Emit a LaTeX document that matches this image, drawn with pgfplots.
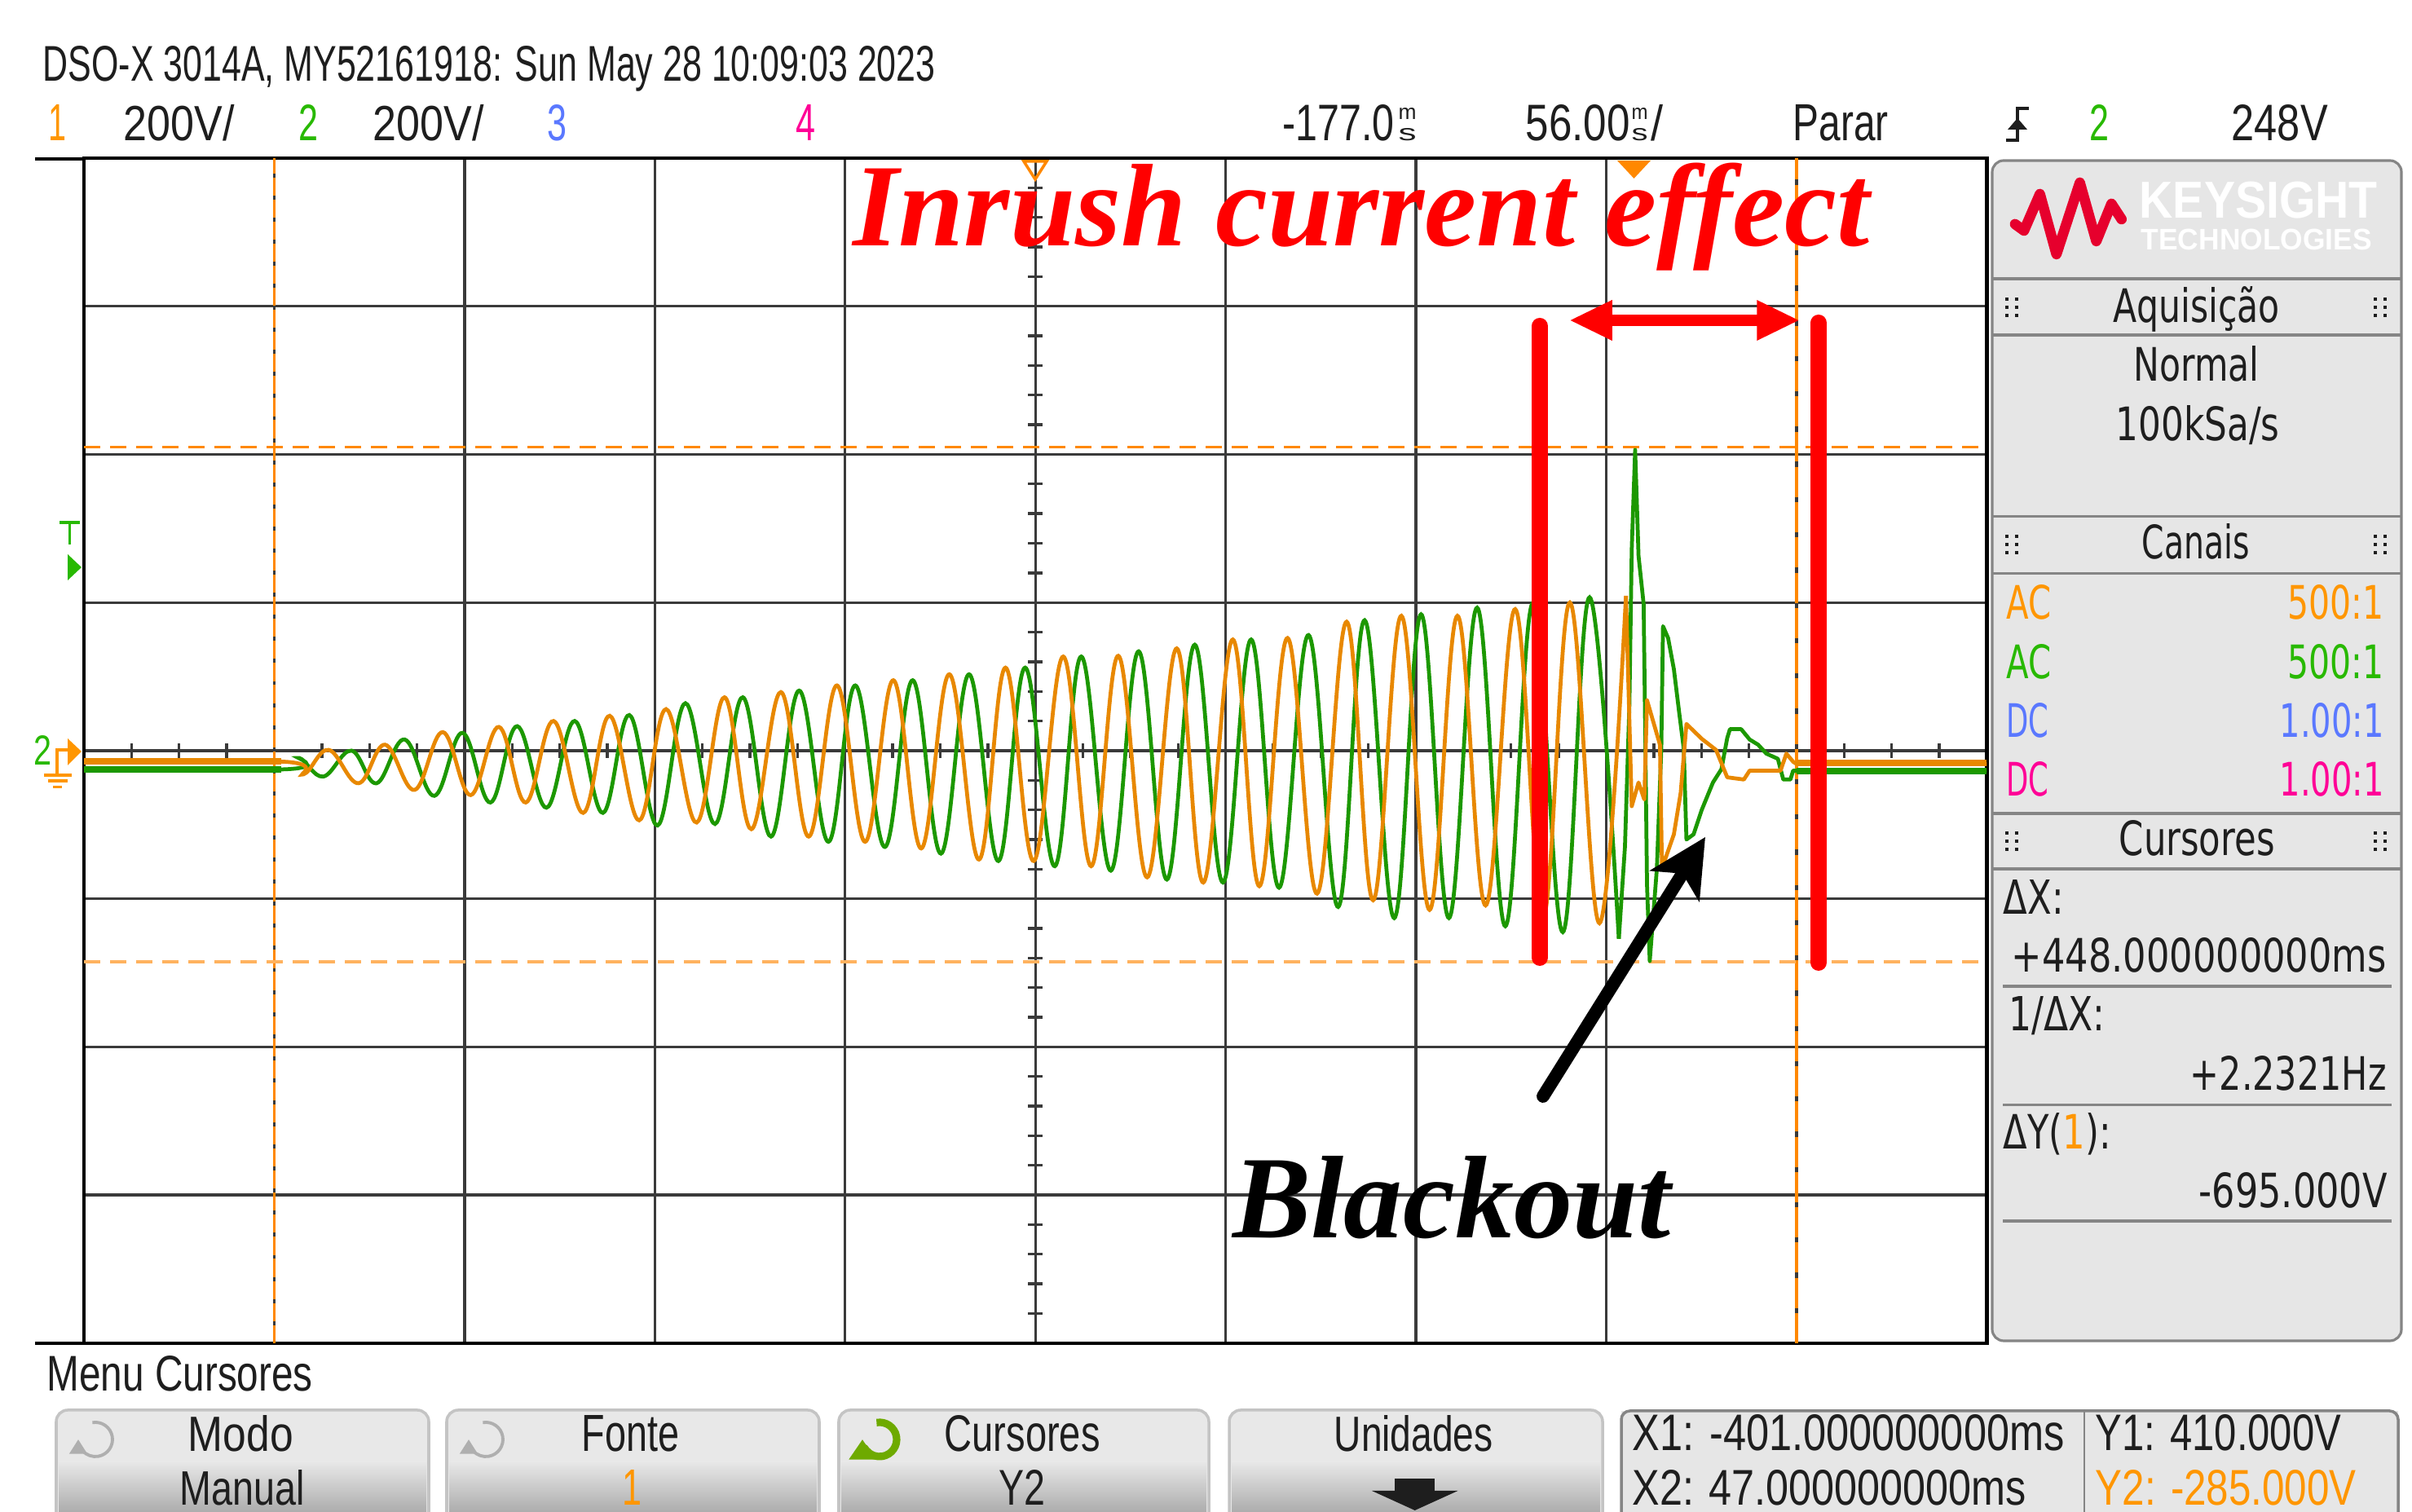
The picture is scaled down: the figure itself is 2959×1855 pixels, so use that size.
\documentclass[border=0pt]{standalone}
\usepackage{pgfplots}
\pgfplotsset{compat=1.18}
\usepackage{fontspec}
\usetikzlibrary{arrows.meta}
\setmainfont{Liberation Sans}
\newfontfamily\scopefont{Liberation Sans}
\newfontfamily\panelfont{DejaVu Sans}
\newfontfamily\annfont{Liberation Serif}
\newlength\pxu \setlength\pxu{0.01cm}
\newcommand\rtxt[3]{\resizebox{#1\pxu}{#2\pxu}{#3}}
\newcommand\msstack[1]{\rlap{\raisebox{26\pxu}{\rtxt{#1}{14}{\scopefont m}}}\rtxt{#1}{15}{\scopefont s}}
\definecolor{chA}{RGB}{232,136,0}
\definecolor{chB}{RGB}{28,152,0}
\definecolor{gridc}{RGB}{58,58,58}
\definecolor{curA}{RGB}{255,136,0}
\definecolor{curB}{RGB}{255,178,95}
\definecolor{panelbg}{RGB}{230,230,230}
\definecolor{panelln}{RGB}{133,133,133}
\definecolor{ksred}{RGB}{230,0,45}
\definecolor{tOr}{RGB}{255,150,0}
\definecolor{tGr}{RGB}{40,185,0}
\definecolor{tBl}{RGB}{90,120,255}
\definecolor{tPk}{RGB}{255,0,150}
\definecolor{txt}{RGB}{30,30,30}
\definecolor{btnface}{RGB}{232,232,232}
\definecolor{btnshade}{RGB}{168,168,168}
\definecolor{btnedge}{RGB}{196,196,196}
\definecolor{icongray}{RGB}{175,175,175}
\definecolor{icongreen}{RGB}{110,170,0}
\newcommand\btn[2]{%
  \fill[btnface, rounded corners=4pt] (#1,-30) rectangle (#2,125);
  \shade[top color=btnface, bottom color=btnshade] (#1+3,-5) rectangle (#2-3,62);
  \draw[btnedge, line width=1pt, rounded corners=4pt] (#1,-30) rectangle (#2,125);
}
\newcommand\handle[2]{%
  \foreach \dx in {0,12}{\foreach \dy in {-10,0,10}{\fill[txt] (#1+\dx,#2+\dy) rectangle ++(4,4);}}
}
\begin{document}
\begin{tikzpicture}[x=0.01cm,y=0.01cm]
\path[use as bounding box] (0,0) rectangle (2959,1855);
\clip (0,0) rectangle (2959,1855);
\fill[white] (0,0) rectangle (2959,1855);

\begin{axis}[
  at={(1.03cm,2.07cm)}, anchor=south west,
  scale only axis, width=23.33cm, height=14.53cm,
  xmin=-457, xmax=103, ymin=-800, ymax=800,
  xtick={-401,-345,-289,-233,-177,-121,-65,-9,47},
  ytick={-600,-400,-200,0,200,400,600},
  xticklabels={}, yticklabels={},
  major tick length=0pt, tick style={draw=none},
  grid=major, major grid style={draw=gridc, line width=0.95pt},
  axis line style={black, line width=1.2pt},
]
\pgfplotsinvokeforeach{-443,-429,-415,-387,-373,-359,-331,-317,-303,-275,-261,-247,-219,-205,-191,-163,-149,-135,-107,-93,-79,-51,-37,-23,5,19,33,61,75,89}{
  \draw[gridc, line width=0.95pt] (axis cs:#1,-9.5) -- (axis cs:#1,9.5);}
\pgfplotsinvokeforeach{-760,-720,-680,-640,-560,-520,-480,-440,-360,-320,-280,-240,-160,-120,-80,-40,40,80,120,160,240,280,320,360,440,480,520,560,640,680,720,760}{
  \draw[gridc, line width=0.95pt] (axis cs:-179.1,#1) -- (axis cs:-174.9,#1);}
% cursors
\addplot[curA, line width=0.9pt, dash pattern=on 6.3pt off 1.4pt] coordinates {(-401,-800) (-401,800)};
\addplot[curA, line width=0.9pt, dash pattern=on 10.5pt off 1.8pt] coordinates {(47,-800) (47,800)};
\addplot[curA, line width=1pt, dash pattern=on 5.7pt off 3.4pt] coordinates {(-457,410) (103,410)};
\addplot[curB, line width=1pt, dash pattern=on 5.7pt off 3.4pt] coordinates {(-457,-285) (103,-285)};
% channel 2 (green)
\addplot[chB, line width=1.35pt, smooth, tension=0.65] coordinates {
(-457,-25) (-397,-25) (-393.6,-10) (-386.6,-35) (-378.3,0) (-370.9,-44) (-362.6,15) (-353.9,-61) (-345.6,24) (-337.4,-70) (-329.5,33) (-320.9,-77) (-312.6,40) (-304.3,-84) (-296.5,48) (-288.2,-101) (-280.0,64) (-271.3,-99) (-263.1,72) (-254.8,-116) (-246.5,81) (-237.9,-123) (-230.0,88) (-221.3,-130) (-213.1,95) (-204.8,-139) (-196.5,103) (-187.9,-149) (-180.0,112) (-171.3,-156) (-163.5,127) (-154.8,-162) (-146.6,134) (-138.3,-174) (-130.1,143) (-121.8,-178) (-113.5,150) (-105.3,-185) (-96.6,156) (-87.9,-211) (-80.1,176) (-71.4,-226) (-63.5,184) (-55.3,-226) (-47.0,193) (-38.7,-237) (-30.5,200) (-21.8,-245) (-13.9,207) (-5.3,-254)};
\addplot[chB, line width=1.35pt, line join=round] coordinates {
(-5.3,-254) (-3.5,-130) (-2.2,60) (-1.5,272) (-0.5,406) (0.5,263) (2.0,198) (2.4,50) (3.0,-182) (3.8,-284) (5.9,-159) (7.2,3) (7.7,168) (9.2,152) (10.9,110) (12.5,50) (13.8,3) (14.6,-120) (16.7,-113) (19.1,-80) (22.4,-43) (24.9,-25) (26.6,17) (27.4,29) (30.7,29) (33.2,15) (35.7,8) (38.1,-4) (41.5,-11) (43.1,-39) (45.2,-39) (46.0,-27) (103,-27)};
\addplot[chB, line width=2.2pt] coordinates {(-457,-25) (-399,-25)};
\addplot[chB, line width=2.2pt] coordinates {(47,-28) (103,-28)};
% channel 1 (orange)
\addplot[chA, line width=1.35pt, smooth, tension=0.65] coordinates {
(-457,-15) (-398,-15) (-392.4,-32) (-385.0,1) (-376.2,-44) (-368.4,8) (-359.7,-53) (-351.4,25) (-343.2,-60) (-334.9,32) (-327.0,-70) (-318.8,40) (-310.1,-84) (-302.3,47) (-293.6,-94) (-285.7,56) (-276.7,-97) (-268.5,72) (-260.6,-106) (-251.9,79) (-243.7,-116) (-235.4,88) (-227.1,-123) (-218.8,95) (-210.6,-132) (-202.3,103) (-193.6,-147) (-185.8,112) (-177.5,-149) (-168.8,127) (-160.6,-156) (-152.6,128) (-144.1,-171) (-135.4,138) (-127.6,-178) (-118.9,150) (-111.1,-183) (-102.8,152) (-94.1,-193) (-85.4,174) (-77.6,-202) (-69.3,182) (-61.0,-215) (-52.8,182) (-44.5,-209) (-35.8,191) (-27.6,-225) (-19.7,200) (-11.0,-233) (-3.2,209)};
\addplot[chA, line width=1.35pt, line join=round] coordinates {
(-3.2,209) (-1.5,-75) (0.5,-43) (2.2,-66) (3.0,68) (6.8,8) (7.4,-159) (10.9,-113) (12.9,-57) (14.6,36) (19.1,16) (23.3,1) (26.6,-36) (31.5,-39) (33.2,-27) (42.3,-27) (44.0,-4) (46.0,-15) (47,-18) (103,-18)};
\addplot[chA, line width=2.2pt] coordinates {(-457,-14) (-399,-14)};
\addplot[chA, line width=2.2pt] coordinates {(47,-17) (103,-17)};
\end{axis}

% border extensions
\draw[black, line width=1.2pt] (43,1660) -- (103,1660);
\draw[black, line width=1.2pt] (43,207) -- (103,207);

% top markers
\draw[curA, line width=1pt] (1256,1657) -- (1284,1657) -- (1270,1635) -- cycle;
\fill[curA] (1984,1658) -- (2025,1658) -- (2004.5,1636) -- cycle;

% left markers
\draw[tGr, line width=1.1pt] (73,1214) -- (98,1214) (85.5,1214) -- (85.5,1187);
\fill[tGr] (83,1175) -- (100,1159) -- (83,1143) -- cycle;
\node[anchor=base, inner sep=0pt, text=tGr] at (52,916) {\rtxt{22}{36}{\scopefont 2}};
\fill[tOr] (83,949) -- (100,933) -- (83,916) -- cycle;
\draw[tOr, line width=0.9pt] (83,935) -- (70,935) -- (70,906);
\draw[tOr, line width=0.9pt] (54,904) -- (88,904) (59,897) -- (83,897) (65,889.5) -- (76,889.5);

% annotations
\draw[red, line width=5.7pt, line cap=round] (1889,1455) -- (1889,680);
\draw[red, line width=5.7pt, line cap=round] (2231,1459) -- (2231,674);
\draw[red, line width=4pt, {Triangle[length=15pt,width=13pt]}-{Triangle[length=15pt,width=13pt]}] (1925,1462) -- (2208,1462);
\draw[black, line width=4.5pt, line cap=round, -{Stealth[length=20pt,width=20pt,inset=5pt]}] (1893,510) -- (2092,828);
\node[anchor=base west, inner sep=0pt, text=red] at (1046,1553) {\annfont\bfseries\itshape\fontsize{41}{48}\selectfont Inrush current effect};
\node[anchor=base west, inner sep=0pt, text=black] at (1512,336) {\annfont\bfseries\itshape\fontsize{41}{48}\selectfont Blackout};

% header
\node[anchor=base west, inner sep=0pt, text=txt] at (52,1755) {\rtxt{1095}{43}{\scopefont DSO-X 3014A, MY52161918: Sun May 28 10:09:03 2023}};
\node[anchor=base, inner sep=0pt, text=tOr] at (71,1682) {\rtxt{22}{44}{\scopefont 1}};
\node[anchor=base west, inner sep=0pt, text=txt] at (151,1682) {\rtxt{136}{44}{\scopefont 200V/}};
\node[anchor=base, inner sep=0pt, text=tGr] at (378.5,1682) {\rtxt{24}{44}{\scopefont 2}};
\node[anchor=base west, inner sep=0pt, text=txt] at (457,1682) {\rtxt{136}{44}{\scopefont 200V/}};
\node[anchor=base, inner sep=0pt, text=tBl] at (683.5,1682) {\rtxt{24}{44}{\scopefont 3}};
\node[anchor=base, inner sep=0pt, text=tPk] at (988,1682) {\rtxt{24}{44}{\scopefont 4}};
\node[anchor=base west, inner sep=0pt, text=txt] at (1573,1682) {\rtxt{137}{44}{\scopefont -177.0}\hspace{5\pxu}\msstack{22}};
\node[anchor=base west, inner sep=0pt, text=txt] at (1871,1682) {\rtxt{128}{44}{\scopefont 56.00}\hspace{2\pxu}\msstack{20}\hspace{4\pxu}\rtxt{15}{44}{\scopefont /}};
\node[anchor=base west, inner sep=0pt, text=txt] at (2199,1682) {\rtxt{117}{44}{\scopefont Parar}};
\draw[txt, line width=1.1pt] (2461,1683) -- (2475,1683) -- (2475,1722) -- (2489,1722);
\fill[txt] (2463,1696) -- (2487,1696) -- (2475,1710) -- cycle;
\node[anchor=base, inner sep=0pt, text=tGr] at (2575,1682) {\rtxt{24}{44}{\scopefont 2}};
\node[anchor=base west, inner sep=0pt, text=txt] at (2737,1682) {\rtxt{118}{44}{\scopefont 248V}};

% right panel
\draw[panelln, line width=0.9pt, fill=panelbg, rounded corners=4pt] (2444,210) rectangle (2946,1658);
\foreach \yy in {1513.2,1444,1221.7,1151.6,857,789}{\draw[panelln, line width=1pt] (2444,\yy) -- (2946,\yy);}
\foreach \yy in {645,499.6,356.8}{\draw[panelln, line width=1pt] (2457,\yy) -- (2934,\yy);}
\draw[ksred, line width=3.6pt, line join=round, line cap=round] (2472,1580) -- (2483,1572) -- (2502.5,1617) -- (2522.8,1543) -- (2551.5,1631) -- (2571.7,1559) -- (2590.3,1605) -- (2602.7,1586);
\node[anchor=base west, inner sep=0pt, text=white] at (2624,1587) {\rtxt{292}{44.5}{\scopefont\bfseries KEYSIGHT}};
\node[anchor=base west, inner sep=0pt, text=white] at (2626,1548) {\rtxt{283}{25.5}{\scopefont\bfseries TECHNOLOGIES}};
\handle{2460}{1476}\handle{2912}{1476}
\handle{2460}{1185}\handle{2912}{1185}
\handle{2460}{821}\handle{2912}{821}
\node[anchor=base west, inner sep=0pt, text=txt] at (2592,1459.6) {\rtxt{204}{44}{\panelfont Aquisição}};
\node[anchor=base west, inner sep=0pt, text=txt] at (2617,1387.3) {\rtxt{154}{43}{\panelfont Normal}};
\node[anchor=base west, inner sep=0pt, text=txt] at (2595,1314.6) {\rtxt{201}{43}{\panelfont 100kSa/s}};
\node[anchor=base west, inner sep=0pt, text=txt] at (2627,1169.5) {\rtxt{132}{43}{\panelfont Canais}};
\node[anchor=base west, inner sep=0pt, text=tOr] at (2461,1095.8) {\rtxt{55}{42}{\panelfont AC}};
\node[anchor=base west, inner sep=0pt, text=tOr] at (2806,1095.8) {\rtxt{118}{42}{\panelfont 500:1}};
\node[anchor=base west, inner sep=0pt, text=tGr] at (2461,1022.1) {\rtxt{55}{42}{\panelfont AC}};
\node[anchor=base west, inner sep=0pt, text=tGr] at (2806,1022.1) {\rtxt{118}{42}{\panelfont 500:1}};
\node[anchor=base west, inner sep=0pt, text=tBl] at (2461,950.4) {\rtxt{52}{42}{\panelfont DC}};
\node[anchor=base west, inner sep=0pt, text=tBl] at (2796,950.4) {\rtxt{128}{42}{\panelfont 1.00:1}};
\node[anchor=base west, inner sep=0pt, text=tPk] at (2461,878) {\rtxt{52}{42}{\panelfont DC}};
\node[anchor=base west, inner sep=0pt, text=tPk] at (2796,878) {\rtxt{128}{42}{\panelfont 1.00:1}};
\node[anchor=base west, inner sep=0pt, text=txt] at (2599,805) {\rtxt{191}{43}{\panelfont Cursores}};
\node[anchor=base west, inner sep=0pt, text=txt] at (2457,733.6) {\rtxt{74}{42}{\panelfont ΔX:}};
\node[anchor=base west, inner sep=0pt, text=txt] at (2467,662.2) {\rtxt{460}{42}{\panelfont +448.000000000ms}};
\node[anchor=base west, inner sep=0pt, text=txt] at (2464,590.8) {\rtxt{118}{42}{\panelfont 1/ΔX:}};
\node[anchor=base west, inner sep=0pt, text=txt] at (2686,517) {\rtxt{241}{42}{\panelfont +2.2321Hz}};
\node[anchor=base west, inner sep=0pt, text=txt] at (2457,445.4) {\rtxt{132}{44}{\panelfont ΔY(\textcolor{tOr}{1}):}};
\node[anchor=base west, inner sep=0pt, text=txt] at (2697,373) {\rtxt{231}{43}{\panelfont -695.000V}};

% bottom menu
\node[anchor=base west, inner sep=0pt, text=txt] at (57,148) {\rtxt{326}{43}{\scopefont Menu Cursores}};
\btn{69}{526}
\btn{548}{1005}
\btn{1029}{1483}
\btn{1508}{1966}
\draw[icongray, line width=1.1pt, -{Triangle[length=5pt,width=6pt]}] (117,89) ++(100:21) arc[start angle=100, end angle=-180, radius=21];
\draw[icongray, line width=1.1pt, -{Triangle[length=5pt,width=6pt]}] (596,89) ++(100:21) arc[start angle=100, end angle=-180, radius=21];
\draw[icongreen, line width=2.6pt, -{Triangle[length=7pt,width=9pt]}] (1079,89) ++(100:21) arc[start angle=100, end angle=-180, radius=21];
\node[anchor=base west, inner sep=0pt, text=txt] at (230,74.3) {\rtxt{129}{44}{\scopefont Modo}};
\node[anchor=base west, inner sep=0pt, text=txt] at (220,8) {\rtxt{153}{43}{\scopefont Manual}};
\node[anchor=base west, inner sep=0pt, text=txt] at (713,74.3) {\rtxt{119.5}{44}{\scopefont Fonte}};
\node[anchor=base, inner sep=0pt, text=tOr] at (775,8) {\rtxt{24}{43}{\scopefont 1}};
\node[anchor=base west, inner sep=0pt, text=txt] at (1158,74.3) {\rtxt{191}{44}{\scopefont Cursores}};
\node[anchor=base west, inner sep=0pt, text=txt] at (1225,8) {\rtxt{57}{43}{\scopefont Y2}};
\node[anchor=base west, inner sep=0pt, text=txt] at (1636,74.3) {\rtxt{195}{44}{\scopefont Unidades}};
\fill[txt] (1711,41) rectangle (1760,26);
\fill[txt] (1683,26) -- (1788.5,26) -- (1735.7,2) -- cycle;
\fill[panelbg] (1989,-30) rectangle (2942,124);
\draw[panelln, line width=1pt, rounded corners=3pt] (1989,-30) rectangle (2942,124);
\draw[panelln, line width=0.8pt] (2557,-30) -- (2557,124);
\node[anchor=base west, inner sep=0pt, text=txt] at (2002,75) {\rtxt{530}{44}{\scopefont X1: -401.000000000ms}};
\node[anchor=base west, inner sep=0pt, text=txt] at (2002,8) {\rtxt{483}{43}{\scopefont X2: 47.000000000ms}};
\node[anchor=base west, inner sep=0pt, text=txt] at (2570,75) {\rtxt{301.5}{44}{\scopefont Y1: 410.000V}};
\node[anchor=base west, inner sep=0pt, text=tOr] at (2570,8) {\rtxt{320}{43}{\scopefont Y2: -285.000V}};
\end{tikzpicture}
\end{document}
